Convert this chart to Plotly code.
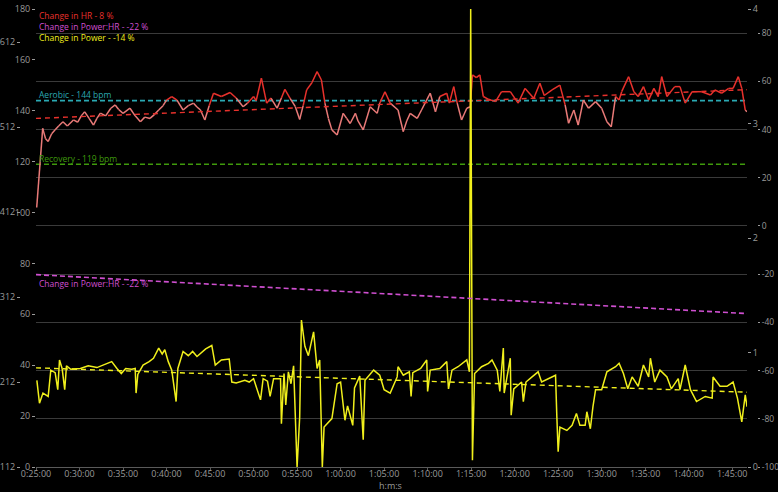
import plotly.graph_objects as go

# ---------------- data (time in minutes) ----------------
hr_time = [25.08, 25.77, 26.1, 26.4, 26.8, 27.2, 27.6, 28.1, 28.6, 29.3, 29.8, 30.2, 30.6, 31.1, 31.6, 32.0,
           32.4, 33.0, 33.6, 34.1, 34.5, 35.0, 35.8, 36.4, 37.0, 37.5, 38.1, 38.6, 39.1, 39.6, 40.0, 40.6,
           41.2, 41.9, 42.5, 43.1, 43.5, 43.9, 44.4, 44.9, 45.4, 46.3, 47.3, 48.0, 48.8, 49.3, 50.0, 50.3,
           50.9, 51.5, 52.0, 52.7, 53.2, 53.6, 54.2, 54.8, 55.3, 55.7, 56.1, 56.7, 57.3, 57.8, 58.2, 58.6,
           59.0, 59.6, 60.3, 60.7, 61.1, 61.7, 62.0, 62.6, 63.4, 64.2, 64.5, 65.1, 65.7, 66.6, 67.2, 67.6,
           68.0, 68.8, 69.3, 70.3, 70.9, 71.4, 72.2, 72.5, 73.0, 73.4, 73.9, 74.5, 74.9, 75.15, 75.6, 76.0,
           76.4, 77.0, 77.8, 78.5, 79.5, 80.4, 81.2, 82.2, 82.9, 83.4, 84.3, 85.2, 85.8, 86.2, 86.8, 87.3,
           87.9, 88.5, 89.3, 90.0, 90.6, 91.1, 91.6, 92.0, 92.3, 93.1, 93.7, 94.2, 94.8, 95.4, 96.0, 96.5,
           96.9, 97.5, 98.4, 99.0, 99.6, 100.4, 101.5, 102.5, 103.0, 103.8, 104.6, 105.1, 105.7, 106.1,
           106.5, 106.7]
hr_bpm = [102, 133.1, 129, 127.9, 131, 132.5, 134, 135.7, 134, 136.4, 135.5, 138, 139.6, 137, 134.4, 137,
          139.1, 138, 141, 142.3, 140.5, 139, 141, 138, 135.7, 137.5, 137, 138.5, 140.3, 142, 144.2, 145.6,
          144.2, 140.3, 142, 143, 141.5, 140.3, 136.4, 142, 146.9, 145.6, 147.2, 145, 141.6, 143, 145.6, 144,
          152.8, 143, 145, 141, 145, 148.4, 144.9, 141.6, 136.6, 142, 148.2, 151, 155.4, 152.1, 143, 137,
          132.5, 130.5, 139, 137, 135, 139, 136, 132.5, 141.6, 139, 143, 147.5, 143, 140.3, 131.8, 136,
          139, 137, 140.3, 146.9, 139.6, 145.6, 146.9, 143, 149.5, 143, 136.4, 141, 141.6, 154.1, 153, 154.1,
          145.6, 144.5, 143.6, 147.5, 147.5, 143, 148.8, 144.9, 150.8, 146, 148.2, 150.1, 142.3, 135.1, 140.3, 134.4,
          144.2, 141, 143.6, 141, 135.7, 133.7, 145.6, 144.2, 147.5, 153.4, 147.5, 145.6, 149.5, 144.2, 148.8, 145.6,
          153.4, 145.6, 149.5, 149.5, 143, 147.5, 147.5, 146.2, 148.2, 146.9, 148.8, 148.8, 153.4, 148.8,
          140.3, 139.6]

power_time = [25.1, 25.4, 25.8, 26.4, 26.7, 27.2, 27.5, 27.7, 28.0, 28.3, 28.5, 29.0, 30.1, 31.0, 32.0, 33.0,
              33.7, 34.3, 34.8, 35.3, 36.0, 36.4, 36.5, 36.7, 37.3, 38.0, 38.5, 39.1, 39.5, 39.8, 40.2, 40.6,
              41.1, 41.3, 41.9, 42.5, 43.0, 43.5, 44.5, 45.2, 45.6, 46.3, 47.2, 47.5, 48.0, 49.0, 49.5, 50.0,
              50.8, 51.1, 51.6, 51.9, 52.3, 53.1, 53.2, 53.5, 53.7, 54.0, 54.3, 54.6, 55.0, 55.3, 55.5, 55.9,
              56.3, 56.9, 57.3, 57.6, 57.9, 58.1, 59.0, 59.6, 60.0, 60.5, 60.8, 61.4, 61.6, 62.2, 62.6, 62.8,
              63.8, 64.5, 65.0, 65.7, 66.5, 66.6, 67.2, 67.9, 68.1, 68.3, 69.2, 69.9, 70.0, 70.3, 71.4, 72.2,
              72.4, 72.8, 73.5, 74.5, 74.8, 74.95, 75.15, 75.4, 76.2, 77.0, 77.4, 78.0, 78.3, 78.7, 78.8, 79.5,
              79.6, 79.9, 80.8, 81.0, 81.3, 82.0, 82.7, 83.1, 83.9, 84.7, 84.85, 85.0, 85.2, 86.0, 86.6, 87.1,
              87.5, 88.1, 88.3, 88.7, 89.0, 89.3, 90.0, 90.6, 91.6, 92.0, 92.5, 93.0, 93.5, 94.2, 94.8, 95.4,
              95.6, 96.1, 96.7, 97.5, 98.0, 98.8, 99.0, 99.6, 100.2, 100.9, 101.9, 102.7, 102.8, 103.6, 104.4,
              105.1, 105.6, 106.1, 106.5, 106.7]
power_w = [214, 187, 199, 195, 226, 223, 203, 238, 228, 203, 231, 227, 228, 231, 229, 233,
           236, 228, 222, 228, 227, 228, 199, 221, 232, 236, 240, 252, 245, 250, 236, 226,
           189, 228, 248, 243, 248, 242, 251, 255, 232, 238, 239, 212, 211, 214, 212, 216,
           191, 216, 213, 195, 216, 216, 163, 222, 185, 224, 210, 231, 112, 171, 285, 254,
           243, 271, 228, 238, 112, 159, 169, 210, 212, 167, 184, 161, 205, 219, 144, 214,
           226, 220, 203, 199, 218, 230, 220, 224, 195, 223, 228, 238, 201, 226, 228, 236,
           204, 226, 230, 238, 224, 651, 120, 222, 230, 234, 238, 226, 201, 252, 199, 240,
           173, 204, 212, 189, 212, 218, 224, 212, 216, 220, 171, 130, 159, 155, 161, 175,
           161, 161, 177, 157, 183, 203, 203, 224, 230, 234, 222, 204, 218, 207, 232, 218,
           240, 212, 226, 218, 204, 216, 203, 232, 203, 189, 195, 193, 218, 207, 207,
           212, 193, 165, 197, 183]

trend_time = [25.0, 106.7]
hr_trend = [137.0, 148.3]            # Change in HR - 8 %
power_trend_w = [228.7, 200.0]       # Change in Power - -14 %
ratio_trend = [1.68, 1.34]           # Change in Power:HR - -22 %
aerobic_bpm = 144
recovery_bpm = 119

x_tick_labels = ["0:25:00", "0:30:00", "0:35:00", "0:40:00", "0:45:00", "0:50:00", "0:55:00",
                 "1:00:00", "1:05:00", "1:10:00", "1:15:00", "1:20:00", "1:25:00", "1:30:00",
                 "1:35:00", "1:40:00", "1:45:00"]
hr_ticks = [0, 20, 40, 60, 80, 100, 120, 140, 160, 180]
power_ticks = [112, 212, 312, 412, 512, 612]
ratio_ticks = [0, 1, 2, 3, 4]
pct_ticks = [-100, -80, -60, -40, -20, 0, 20, 40, 60, 80]

legend_texts = ["Change in HR - 8 %", "Change in Power:HR - -22 %", "Change in Power - -14 %"]
x_title = "h:m:s"


def to_min(lbl):
    h, m, s = lbl.split(":")
    return int(h) * 60 + int(m) + int(s) / 60


x_tick_vals = [to_min(l) for l in x_tick_labels]

# ---------------- styles ----------------
RED = "#e8312c"
PINK = "#e97a78"
YELLOW = "#f0ef1c"
MAGENTA = "#cf4fd0"
CYAN = "#2aa9b3"
GREEN = "#3f9a0c"
TICK = "#9a9a9a"
GRID = "#3a3a3a"
FONT = "Open Sans"

fig = go.Figure()

# threshold lines
fig.add_trace(go.Scatter(x=trend_time, y=[aerobic_bpm, aerobic_bpm], mode="lines",
                         line=dict(color=CYAN, width=1.6, dash="5px,3px"), yaxis="y", hoverinfo="skip"))
fig.add_trace(go.Scatter(x=trend_time, y=[recovery_bpm, recovery_bpm], mode="lines",
                         line=dict(color=GREEN, width=1.6, dash="5px,3px"), yaxis="y", hoverinfo="skip"))

# HR coloured by zone: red above aerobic threshold, pink below
red_x, red_y, pink_x, pink_y = [], [], [], []
for i in range(len(hr_time) - 1):
    seg_hi = (hr_bpm[i] + hr_bpm[i + 1]) / 2 >= aerobic_bpm
    tx, ty = (red_x, red_y) if seg_hi else (pink_x, pink_y)
    tx += [hr_time[i], hr_time[i + 1], None]
    ty += [hr_bpm[i], hr_bpm[i + 1], None]
fig.add_trace(go.Scatter(x=pink_x, y=pink_y, mode="lines", line=dict(color=PINK, width=1.5), yaxis="y"))
fig.add_trace(go.Scatter(x=red_x, y=red_y, mode="lines", line=dict(color=RED, width=1.5), yaxis="y"))
fig.add_trace(go.Scatter(x=trend_time, y=hr_trend, mode="lines",
                         line=dict(color=RED, width=1.4, dash="5px,4px"), yaxis="y"))

# power (W) on left outer axis
fig.add_trace(go.Scatter(x=power_time, y=power_w, mode="lines", line=dict(color=YELLOW, width=1.5),
                         yaxis="y2"))
fig.add_trace(go.Scatter(x=trend_time, y=power_trend_w, mode="lines",
                         line=dict(color=YELLOW, width=1.4, dash="5px,4px"), yaxis="y2"))

# power:HR ratio trend on right inner axis
fig.add_trace(go.Scatter(x=trend_time, y=ratio_trend, mode="lines",
                         line=dict(color=MAGENTA, width=1.6, dash="5px,3px"), yaxis="y3"))

# percent axis (gridlines)
fig.add_trace(go.Scatter(x=trend_time, y=[None, None], mode="lines", yaxis="y4", showlegend=False))

tickfont = dict(family=FONT, size=9, color=TICK)
L, R, T, B = 20, 21, 9, 25
PW = 778 - L - R
PH = 492 - T - B
xd0 = (36 - L) / PW
xd1 = (747 - L) / PW

fig.update_layout(
    width=778, height=492,
    margin=dict(l=L, r=R, t=T, b=B, autoexpand=False),
    paper_bgcolor="black", plot_bgcolor="black",
    showlegend=False,
    font=dict(family=FONT, size=9, color=TICK),
    xaxis=dict(domain=[xd0, xd1], range=[25.0, 106.7], tickvals=x_tick_vals, ticktext=x_tick_labels,
               showgrid=False, zeroline=False, showline=True, linecolor="#5a5a5a", linewidth=1,
               ticks="outside", ticklen=3, tickcolor="#5a5a5a", tickfont=tickfont, automargin=False,
               ticklabelstandoff=-5),
    yaxis=dict(range=[0, 180], tickvals=hr_ticks, showgrid=False, zeroline=False, automargin=False,
               ticks="outside", ticklen=3, tickcolor=TICK, tickfont=tickfont, side="left"),
    yaxis2=dict(range=[112, 651], tickvals=power_ticks, overlaying="y", anchor="free", position=0,
                side="left", showgrid=False, zeroline=False, ticks="outside", ticklen=3,
                tickcolor=TICK, tickfont=tickfont, automargin=False),
    yaxis3=dict(range=[0, 4], tickvals=ratio_ticks, overlaying="y", anchor="x", side="right",
                showgrid=False, zeroline=False, ticks="outside", ticklen=3, tickcolor=TICK,
                tickfont=tickfont, automargin=False),
    yaxis4=dict(range=[-100, 90], tickvals=pct_ticks, ticktext=[str(v) for v in pct_ticks],
                overlaying="y", anchor="free", position=1,
                side="right", showgrid=True, gridcolor=GRID, gridwidth=1, zeroline=False,
                ticks="outside", ticklen=2, tickcolor=TICK, automargin=False,
                tickfont=dict(family=FONT, size=8.5, color=TICK)),
)

fig.add_annotation(xref="paper", yref="paper", x=(390 - L) / PW, y=-(485.5 - 467) / PH,
                   text=x_title, showarrow=False, xanchor="center", yanchor="middle",
                   font=dict(family=FONT, size=9, color=TICK))

leg_colors = [RED, MAGENTA, YELLOW]
for i, (txt, col) in enumerate(zip(legend_texts, leg_colors)):
    fig.add_annotation(xref="paper", yref="paper", x=xd0 + 1 / PW, y=1 - (7 + i * 10.5) / PH,
                       text=txt, showarrow=False, xanchor="left", yanchor="middle",
                       font=dict(family=FONT, size=8.5, color=col))

fig.add_annotation(xref="paper", yref="y", x=xd0 + 1 / PW, y=aerobic_bpm, yshift=6,
                   text=f"Aerobic - {aerobic_bpm} bpm", showarrow=False, xanchor="left", yanchor="middle",
                   font=dict(family=FONT, size=8.5, color=CYAN))
fig.add_annotation(xref="paper", yref="y", x=xd0 + 1 / PW, y=recovery_bpm, yshift=6,
                   text=f"Recovery - {recovery_bpm} bpm", showarrow=False, xanchor="left", yanchor="middle",
                   font=dict(family=FONT, size=8.5, color=GREEN))
fig.add_annotation(xref="paper", yref="y3", x=xd0 + 1 / PW, y=ratio_trend[0], yshift=-9,
                   text=legend_texts[1], showarrow=False, xanchor="left", yanchor="middle",
                   font=dict(family=FONT, size=8.5, color=MAGENTA))

fig.write_html("out.html", config={"displayModeBar": False},
               post_script="document.body.style.margin='0';document.body.style.background='black';")
